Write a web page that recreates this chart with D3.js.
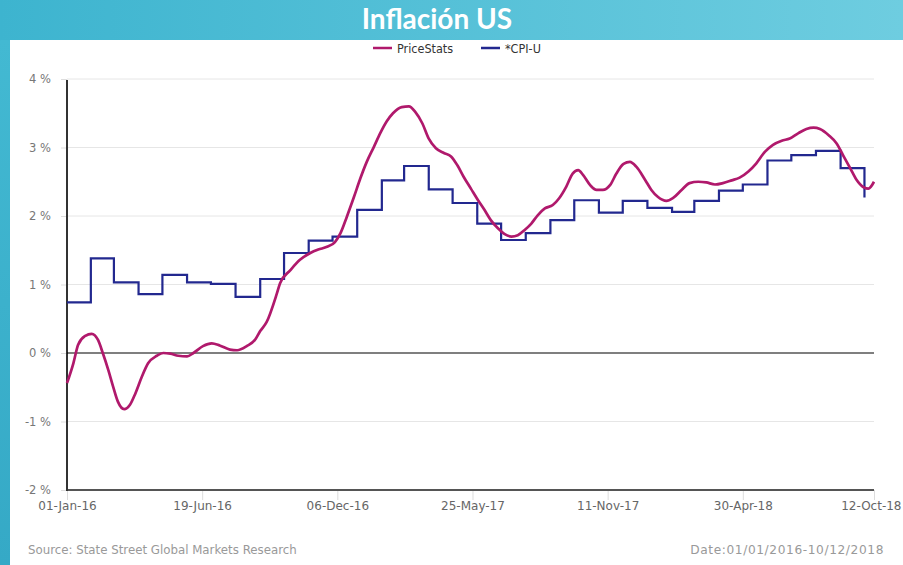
<!DOCTYPE html>
<html>
<head>
<meta charset="utf-8">
<script src="https://cdn.jsdelivr.net/npm/d3@7"></script>
<style>
  html, body { margin: 0; padding: 0; }
  body { width: 903px; height: 565px; overflow: hidden; }
</style>
</head>
<body>
<svg id="chart" width="903" height="565"></svg>
<script>
// ---- Data ----
const priceDates = [
  "2016-01-01","2016-01-09","2016-01-15","2016-01-24","2016-02-01","2016-02-09","2016-02-15","2016-02-22",
  "2016-02-28","2016-03-05","2016-03-13","2016-03-20","2016-03-27","2016-04-04","2016-04-12","2016-04-23",
  "2016-05-01","2016-05-10","2016-05-20","2016-05-31","2016-06-08","2016-06-20","2016-07-01","2016-07-11",
  "2016-07-24","2016-08-02","2016-08-14","2016-08-25","2016-08-31","2016-09-08","2016-09-21","2016-09-25",
  "2016-10-08","2016-10-20","2016-11-02","2016-11-12","2016-11-23","2016-12-03","2016-12-10","2016-12-18",
  "2016-12-27","2017-01-04","2017-01-12","2017-01-21","2017-01-29","2017-02-06","2017-02-14","2017-02-25",
  "2017-03-06","2017-03-14","2017-03-23","2017-03-31","2017-04-09","2017-04-19","2017-04-28","2017-05-06",
  "2017-05-14","2017-05-23","2017-06-01","2017-06-09","2017-06-17","2017-06-26","2017-07-04","2017-07-13",
  "2017-07-21","2017-07-30","2017-08-07","2017-08-15","2017-08-24","2017-09-03","2017-09-11","2017-09-20",
  "2017-09-28","2017-10-05","2017-10-11","2017-10-20","2017-10-28","2017-11-05","2017-11-14","2017-11-22",
  "2017-12-01","2017-12-09","2017-12-17","2017-12-28","2018-01-05","2018-01-13","2018-01-24","2018-02-01",
  "2018-02-12","2018-02-22","2018-03-05","2018-03-15","2018-03-26","2018-04-05","2018-04-16","2018-04-26",
  "2018-05-07","2018-05-17","2018-05-28","2018-06-07","2018-06-18","2018-06-28","2018-07-09","2018-07-19",
  "2018-07-28","2018-08-05","2018-08-16","2018-08-26","2018-09-03","2018-09-12","2018-09-20","2018-09-29",
  "2018-10-05","2018-10-12"
];
const priceValues = [
  -0.44,-0.15,0.12,0.25,0.28,0.19,0.00,-0.25,
  -0.49,-0.71,-0.82,-0.76,-0.59,-0.35,-0.15,-0.04,
  0.00,-0.01,-0.04,-0.05,0.00,0.10,0.14,0.11,
  0.05,0.04,0.10,0.20,0.32,0.45,0.87,1.02,
  1.21,1.36,1.46,1.51,1.55,1.62,1.75,1.99,
  2.28,2.55,2.79,3.01,3.21,3.38,3.50,3.59,
  3.60,3.52,3.35,3.13,2.99,2.92,2.87,2.74,
  2.57,2.40,2.23,2.09,1.94,1.82,1.74,1.70,
  1.72,1.80,1.89,2.01,2.11,2.16,2.26,2.43,
  2.62,2.67,2.60,2.45,2.38,2.38,2.45,2.62,
  2.76,2.79,2.72,2.53,2.38,2.28,2.22,2.26,
  2.38,2.48,2.50,2.49,2.46,2.48,2.52,2.56,
  2.65,2.77,2.94,3.04,3.10,3.13,3.21,3.27,
  3.29,3.27,3.18,3.06,2.89,2.70,2.53,2.42,
  2.40,2.50
];
const cpiDates = [
  "2016-01-01","2016-01-31","2016-02-29","2016-03-31","2016-04-30","2016-05-31","2016-06-30","2016-07-31",
  "2016-08-31","2016-09-30","2016-10-31","2016-11-30","2016-12-31","2017-01-31","2017-02-28","2017-03-31",
  "2017-04-30","2017-05-31","2017-06-30","2017-07-31","2017-08-31","2017-09-30","2017-10-31","2017-11-30",
  "2017-12-31","2018-01-31","2018-02-28","2018-03-31","2018-04-30","2018-05-31","2018-06-30","2018-07-31",
  "2018-08-31","2018-09-30"
];
const cpiValues = [
  0.74,1.38,1.03,0.86,1.14,1.03,1.01,0.82,
  1.08,1.46,1.64,1.70,2.09,2.52,2.73,2.39,
  2.19,1.89,1.65,1.75,1.94,2.23,2.05,2.22,
  2.12,2.06,2.22,2.37,2.46,2.81,2.89,2.95,
  2.70,2.27
];
const yTickValues = [-2,-1,0,1,2,3,4];
const xTickDates = ["2016-01-01","2016-06-19","2016-12-06","2017-05-25","2017-11-11","2018-04-30","2018-10-12"];
const xTickLabels = ["01-Jan-16","19-Jun-16","06-Dec-16","25-May-17","11-Nov-17","30-Apr-18","12-Oct-18"];
const seriesNames = ["PriceStats","*CPI-U"];
const seriesColors = ["#b0196c","#22288f"];

// ---- Drawing ----
const parse = d3.utcParse("%Y-%m-%d");
const svg = d3.select("#chart");

const defs = svg.append("defs");
const grad = defs.append("linearGradient").attr("id","bg").attr("x1","0").attr("x2","1").attr("y1","0").attr("y2","0");
grad.append("stop").attr("offset","0").attr("stop-color","#3db4cf");
grad.append("stop").attr("offset","1").attr("stop-color","#6ecde0");
const grad2 = defs.append("linearGradient").attr("id","side").attr("x1","0").attr("x2","0").attr("y1","0").attr("y2","1");
grad2.append("stop").attr("offset","0").attr("stop-color","#43b9d2");
grad2.append("stop").attr("offset","1").attr("stop-color","#35a9c6");

svg.append("rect").attr("width",903).attr("height",565).attr("fill","url(#bg)");
svg.append("rect").attr("x",0).attr("y",40).attr("width",12).attr("height",525).attr("fill","url(#side)");
svg.append("rect").attr("x",10).attr("y",40).attr("width",893).attr("height",525).attr("fill","#ffffff");

svg.append("text").attr("x",437).attr("y",29).attr("text-anchor","middle")
  .attr("font-family","Lato, 'Open Sans', sans-serif").attr("font-weight","bold").attr("font-size",28)
  .attr("fill","#ffffff").text("Inflación US");

const x = d3.scaleUtc().domain([parse("2016-01-01"), parse("2018-10-12")]).range([67, 874]);
const y = d3.scaleLinear().domain([-2, 4]).range([490, 79]);

// grid
svg.append("g").selectAll("line").data(yTickValues.filter(v => v !== 0 && v !== -2)).join("line")
  .attr("x1",67).attr("x2",874).attr("y1",d=>y(d)).attr("y2",d=>y(d))
  .attr("stroke","#e6e6e6").attr("stroke-width",1);

// y axis
const yAxis = d3.axisLeft(y).tickValues(yTickValues).tickSize(6).tickFormat(d => d + " %");
const gy = svg.append("g").attr("transform","translate(67,0)").call(yAxis);
gy.select(".domain").remove();
gy.selectAll(".tick line").attr("stroke","#dddddd");
gy.selectAll(".tick text").attr("x",-16).attr("fill","#777").attr("font-size",11.5)
  .attr("font-family","'DejaVu Sans', sans-serif");

// x axis
const xAxis = d3.axisBottom(x).tickValues(xTickDates.map(parse)).tickSize(10)
  .tickFormat((d,i) => xTickLabels[i]);
const gx = svg.append("g").attr("transform","translate(0,490)").call(xAxis);
gx.select(".domain").remove();
gx.selectAll(".tick line").attr("stroke","#dddddd");
gx.selectAll(".tick text").attr("y",11).attr("fill","#666").attr("font-size",12)
  .attr("font-family","'DejaVu Sans', sans-serif");
gx.selectAll(".tick text").filter((d,i) => i === xTickLabels.length - 1)
  .attr("text-anchor","end").attr("x",27);

// axis lines
svg.append("line").attr("x1",67).attr("x2",874).attr("y1",y(-2)).attr("y2",y(-2))
  .attr("stroke","#555").attr("stroke-width",2);
svg.append("line").attr("x1",67).attr("x2",67).attr("y1",y(4)+1).attr("y2",y(-2)+1)
  .attr("stroke","#333").attr("stroke-width",2);
svg.append("line").attr("x1",67).attr("x2",874).attr("y1",y(0)).attr("y2",y(0))
  .attr("stroke","#000").attr("stroke-width",1.2);

// lines
const priceData = priceDates.map((d,i) => ({date: parse(d), value: priceValues[i]}));
const cpiData = cpiDates.map((d,i) => ({date: parse(d), value: cpiValues[i]}));

svg.append("path").datum(cpiData)
  .attr("d", d3.line().x(d=>x(d.date)).y(d=>y(d.value)).curve(d3.curveStepAfter))
  .attr("fill","none").attr("stroke",seriesColors[1]).attr("stroke-width",2.2);

svg.append("path").datum(priceData)
  .attr("d", d3.line().x(d=>x(d.date)).y(d=>y(d.value)).curve(d3.curveMonotoneX))
  .attr("fill","none").attr("stroke",seriesColors[0]).attr("stroke-width",2.7)
  .attr("stroke-linejoin","round");

// legend
const legendX = [373, 481];
const lg = svg.append("g").selectAll("g").data(seriesNames).join("g")
  .attr("transform",(d,i)=>`translate(${legendX[i]},48)`);
lg.append("line").attr("x1",0).attr("x2",19).attr("y1",0).attr("y2",0)
  .attr("stroke",(d,i)=>seriesColors[i]).attr("stroke-width",2.5);
lg.append("text").attr("x",24).attr("y",4.5).attr("font-size",12.5)
  .attr("font-family","'DejaVu Sans Condensed','DejaVu Sans', sans-serif").attr("fill","#333").text(d=>d);

// footer
svg.append("text").attr("x",28).attr("y",554).attr("font-size",11.8)
  .attr("font-family","'DejaVu Sans', sans-serif").attr("fill","#999")
  .text("Source: State Street Global Markets Research");
svg.append("text").attr("x",884).attr("y",554).attr("text-anchor","end").attr("font-size",12.2)
  .attr("letter-spacing",0.6)
  .attr("font-family","'DejaVu Sans', sans-serif").attr("fill","#999")
  .text("Date:01/01/2016-10/12/2018");
</script>
</body>
</html>
